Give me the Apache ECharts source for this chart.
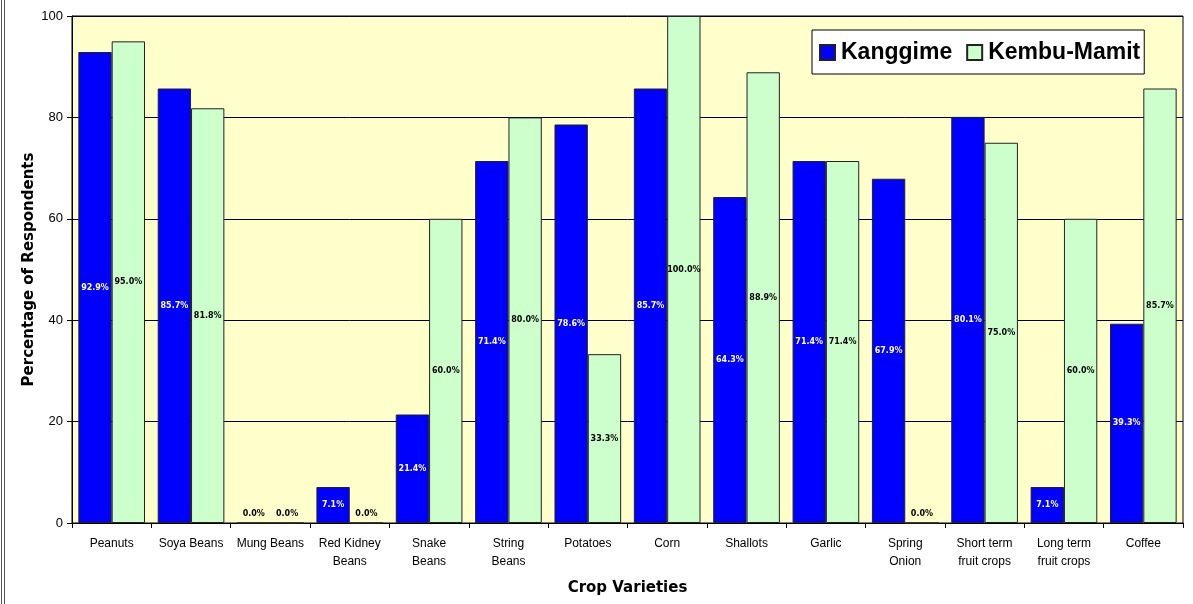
<!DOCTYPE html>
<html><head><meta charset="utf-8">
<script src="https://cdn.jsdelivr.net/npm/echarts@6/dist/echarts.min.js"></script>
<style>html,body{margin:0;padding:0;background:#fff}#c{width:1193px;height:604px}</style>
</head><body><div id="c"></div>
<script>
const categories = ['Peanuts','Soya Beans','Mung Beans','Red Kidney\nBeans','Snake\nBeans','String\nBeans','Potatoes','Corn','Shallots','Garlic','Spring\nOnion','Short term\nfruit crops','Long term\nfruit crops','Coffee'];
const kanggime = [92.9, 85.7, 0.0, 7.1, 21.4, 71.4, 78.6, 85.7, 64.3, 71.4, 67.9, 80.1, 7.1, 39.3];
const kembuMamit = [95.0, 81.8, 0.0, 0.0, 60.0, 80.0, 33.3, 100.0, 88.9, 71.4, 0.0, 75.0, 60.0, 85.7];
const yTicks = [0, 20, 40, 60, 80, 100];

function toData(arr){
  return arr.map(v => v === 0 ? {value: v, label: {position: 'top', distance: 5, color: '#000'}} : v);
}
const labelFont = {fontFamily: 'DejaVu Sans', fontSize: 8, fontWeight: 'bold'};

const chart = echarts.init(document.getElementById('c'));
chart.setOption({
  backgroundColor: '#ffffff',
  animation: false,
  graphic: [
    {type: 'line', shape: {x1: 1.5, y1: 0, x2: 1.5, y2: 604}, style: {stroke: '#555', lineWidth: 1}},
    {type: 'line', shape: {x1: 4.5, y1: 0, x2: 4.5, y2: 604}, style: {stroke: '#555', lineWidth: 1}}
  ],
  grid: {left: 72, right: 10, top: 16, bottom: 81, show: true, backgroundColor: '#FFFFCC', borderColor: '#000', borderWidth: 1},
  legend: {
    left: 812, top: 30, orient: 'horizontal',
    backgroundColor: '#fff', borderColor: '#000', borderWidth: 1,
    padding: [11, 4, 10, 7], itemGap: 14, itemWidth: 15, itemHeight: 15, icon: 'rect',
    textStyle: {fontFamily: 'Liberation Sans', fontSize: 23, fontWeight: 'bold', color: '#000', padding: [0,0,0,1]},
    data: ['Kanggime', 'Kembu-Mamit']
  },
  xAxis: {
    type: 'category', data: categories,
    name: 'Crop Varieties', nameLocation: 'middle', nameGap: 58,
    nameTextStyle: {fontFamily: 'DejaVu Sans', fontSize: 15, fontWeight: 'bold', color: '#000'},
    axisLine: {lineStyle: {color: '#000'}},
    axisTick: {show: true, length: 5, lineStyle: {color: '#000'}},
    axisLabel: {interval: 0, color: '#000', fontFamily: 'Liberation Sans', fontSize: 12, lineHeight: 18, margin: 12}
  },
  yAxis: {
    type: 'value', min: 0, max: 100, interval: 20,
    name: 'Percentage of Respondents', nameLocation: 'middle', nameGap: 35, nameMoveOverlap: false,
    nameTextStyle: {fontFamily: 'DejaVu Sans', fontSize: 15, fontWeight: 'bold', color: '#000'},
    axisLine: {show: true, lineStyle: {color: '#000'}},
    axisTick: {show: true, length: 5, lineStyle: {color: '#000'}},
    axisLabel: {color: '#000', fontFamily: 'Liberation Sans', fontSize: 13, margin: 9,
      formatter: v => yTicks.includes(v) ? String(v) : ''},
    splitLine: {show: true, lineStyle: {color: '#000', width: 1}}
  },
  series: [
    {
      name: 'Kanggime', type: 'bar', data: toData(kanggime),
      barGap: '0%', barCategoryGap: '16%',
      itemStyle: {color: '#0000FF', borderColor: '#222', borderWidth: 1},
      label: Object.assign({show: true, position: 'inside', color: '#fff', formatter: p => p.value.toFixed(1) + '%'}, labelFont)
    },
    {
      name: 'Kembu-Mamit', type: 'bar', data: toData(kembuMamit),
      barGap: '0%', barCategoryGap: '16%',
      itemStyle: {color: '#CCFFCC', borderColor: '#222', borderWidth: 1},
      label: Object.assign({show: true, position: 'inside', color: '#000', formatter: p => p.value.toFixed(1) + '%'}, labelFont)
    }
  ]
});
</script></body></html>
